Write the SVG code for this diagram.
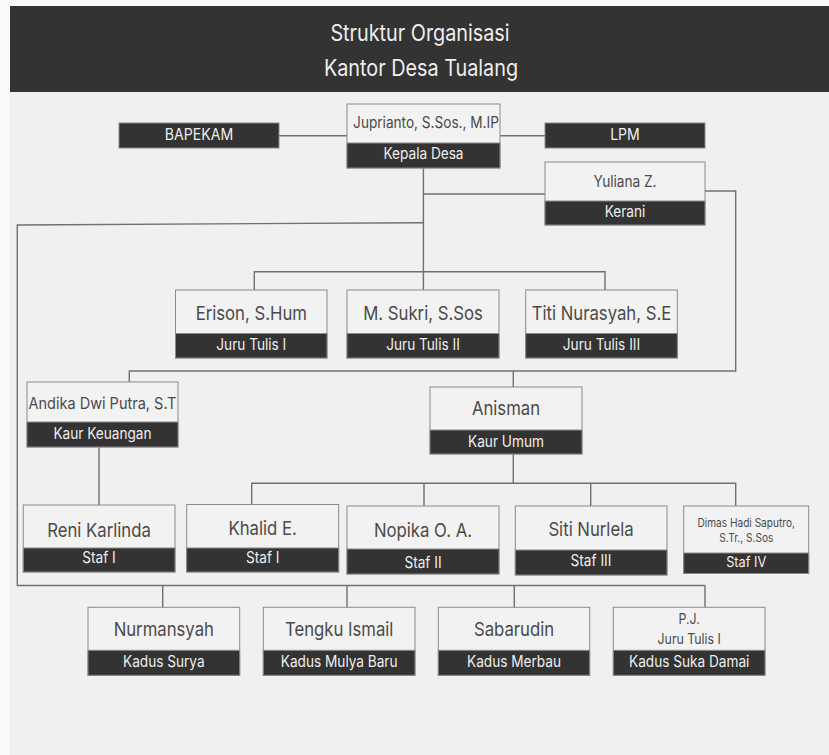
<svg xmlns="http://www.w3.org/2000/svg" width="829" height="755" viewBox="0 0 829 755">
  <style>
    text { font-family: Inter, "Noto Sans", "Liberation Sans", sans-serif; text-anchor: middle; transform-box: fill-box; transform-origin: center; transform: scaleX(0.88); }
    .title { font-size: 22.5px; fill: #eeeeee; }
    .nm { font-size: 19px; fill: #4a4a4a; }
    .nm-s { font-size: 15.5px; fill: #4a4a4a; }
    .nm-xs { font-size: 11.5px; fill: #4a4a4a; }
    .lb { font-size: 15.5px; fill: #eeeeee; }
    .box { fill: #f2f2f2; stroke: #8a8a8a; stroke-width: 1; }
    .band { fill: #333333; stroke: #8a8a8a; stroke-width: 1; }
    .conn { fill: none; stroke: #707070; stroke-width: 1.4; }
  </style>
  <rect x="0" y="0" width="829" height="755" fill="#fafafa"/>
  <rect x="10" y="6" width="819" height="749" fill="#f0f0f0"/>
  <g id="header">
    <rect x="10" y="6" width="819" height="86" fill="#333333"/>
    <text class="title" x="420" y="41">Struktur Organisasi</text>
    <text class="title" x="421" y="76.5">Kantor Desa Tualang</text>
  </g>
  <g id="connectors">
    <path class="conn" d="M279 135.7 H347 M500 135.7 H545"/>
    <path class="conn" d="M423.4 168 V290 M423.4 194 H545"/>
    <path class="conn" d="M423.4 222.7 L17.3 225 V585.5 H705 M162.7 585.5 V607.3 M347 585.5 V607.3 M514.3 585.5 V607.3 M705 585.5 V607.3"/>
    <path class="conn" d="M254.3 290 V271.7 H605 V290"/>
    <path class="conn" d="M705 191 H735.7 V371 H129.3 V382 M513.3 371 V387"/>
    <path class="conn" d="M99 447 V505"/>
    <path class="conn" d="M513.3 454 V483.3 M251.7 504.5 V483.3 H735.7 V506 M424 483.3 V506 M590.7 483.3 V506"/>
  </g>
  <g id="bapekam">
    <rect class="band" x="119" y="123" width="160" height="25"/>
    <text class="lb" x="199" y="140" style="font-size:16px">BAPEKAM</text>
  </g>
  <g id="lpm">
    <rect class="band" x="545" y="123" width="160" height="25"/>
    <text class="lb" x="625" y="140" style="font-size:16px">LPM</text>
  </g>
  <g id="kepala-desa">
    <rect class="box" x="347" y="104" width="153" height="64"/>
    <rect class="band" x="347" y="143" width="153" height="25"/>
    <text class="nm-s" x="426" y="128.3">Juprianto, S.Sos., M.IP</text>
    <text class="lb" x="423.5" y="159.5">Kepala Desa</text>
  </g>
  <g id="kerani">
    <rect class="box" x="545" y="162" width="160" height="63"/>
    <rect class="band" x="545" y="201" width="160" height="24"/>
    <text class="nm-s" x="625" y="187.3">Yuliana Z.</text>
    <text class="lb" x="625" y="217.3">Kerani</text>
  </g>
  <g id="juru-tulis-1">
    <rect class="box" x="175.5" y="290" width="151.5" height="68"/>
    <rect class="band" x="175.5" y="333.5" width="151.5" height="24.5"/>
    <text class="nm" x="251.3" y="320">Erison, S.Hum</text>
    <text class="lb" x="251.3" y="350">Juru Tulis I</text>
  </g>
  <g id="juru-tulis-2">
    <rect class="box" x="347" y="290" width="152" height="68"/>
    <rect class="band" x="347" y="333.5" width="152" height="24.5"/>
    <text class="nm" x="423" y="320">M. Sukri, S.Sos</text>
    <text class="lb" x="423" y="350">Juru Tulis II</text>
  </g>
  <g id="juru-tulis-3">
    <rect class="box" x="525.7" y="290" width="151.6" height="68"/>
    <rect class="band" x="525.7" y="333.5" width="151.6" height="24.5"/>
    <text class="nm" x="601.5" y="320">Titi Nurasyah, S.E</text>
    <text class="lb" x="601.5" y="350">Juru Tulis III</text>
  </g>
  <g id="kaur-keuangan">
    <rect class="box" x="27" y="382" width="151" height="65"/>
    <rect class="band" x="27" y="422" width="151" height="25"/>
    <text class="nm-s" x="102.5" y="409.3" style="font-size:16.5px">Andika Dwi Putra, S.T</text>
    <text class="lb" x="102.5" y="439.3">Kaur Keuangan</text>
  </g>
  <g id="kaur-umum">
    <rect class="box" x="430" y="387" width="152" height="67"/>
    <rect class="band" x="430" y="430" width="152" height="24"/>
    <text class="nm" x="506" y="415">Anisman</text>
    <text class="lb" x="506" y="446.7">Kaur Umum</text>
  </g>
  <g id="staf-reni">
    <rect class="box" x="23.3" y="505" width="151.7" height="67"/>
    <rect class="band" x="23.3" y="548" width="151.7" height="24"/>
    <text class="nm" x="99" y="536.7">Reni Karlinda</text>
    <text class="lb" x="99" y="563.3">Staf I</text>
  </g>
  <g id="staf-khalid">
    <rect class="box" x="186.7" y="504.5" width="152" height="67.5"/>
    <rect class="band" x="186.7" y="548" width="152" height="24"/>
    <text class="nm" x="262.7" y="535">Khalid E.</text>
    <text class="lb" x="262.7" y="562.7">Staf I</text>
  </g>
  <g id="staf-nopika">
    <rect class="box" x="347" y="506" width="152" height="68"/>
    <rect class="band" x="347" y="549" width="152" height="25"/>
    <text class="nm" x="423" y="537">Nopika O. A.</text>
    <text class="lb" x="423" y="568.3">Staf II</text>
  </g>
  <g id="staf-siti">
    <rect class="box" x="515.3" y="506" width="151.7" height="69"/>
    <rect class="band" x="515.3" y="550" width="151.7" height="25"/>
    <text class="nm" x="591" y="535.7">Siti Nurlela</text>
    <text class="lb" x="591" y="566">Staf III</text>
  </g>
  <g id="staf-dimas">
    <rect class="box" x="683.7" y="506" width="125" height="67.5"/>
    <rect class="band" x="683.7" y="553" width="125" height="20.5"/>
    <text class="nm-xs" x="746.2" y="526.7">Dimas Hadi Saputro,</text>
    <text class="nm-xs" x="746.2" y="541.7">S.Tr., S.Sos</text>
    <text class="lb" x="746.2" y="566.7" style="font-size:14.5px">Staf IV</text>
  </g>
  <g id="kadus-surya">
    <rect class="box" x="88" y="607.3" width="151.7" height="68"/>
    <rect class="band" x="88" y="650.3" width="151.7" height="25"/>
    <text class="nm" x="163.8" y="636.5">Nurmansyah</text>
    <text class="lb" x="163.8" y="667">Kadus Surya</text>
  </g>
  <g id="kadus-mulya-baru">
    <rect class="box" x="263.3" y="607.3" width="151.7" height="68"/>
    <rect class="band" x="263.3" y="650.3" width="151.7" height="25"/>
    <text class="nm" x="339.2" y="636.5">Tengku Ismail</text>
    <text class="lb" x="339.2" y="667">Kadus Mulya Baru</text>
  </g>
  <g id="kadus-merbau">
    <rect class="box" x="438.3" y="607.3" width="151.4" height="68"/>
    <rect class="band" x="438.3" y="650.3" width="151.4" height="25"/>
    <text class="nm" x="514" y="636.5">Sabarudin</text>
    <text class="lb" x="514" y="667">Kadus Merbau</text>
  </g>
  <g id="kadus-suka-damai">
    <rect class="box" x="613.3" y="607.3" width="151.7" height="68"/>
    <rect class="band" x="613.3" y="650.3" width="151.7" height="25"/>
    <text class="nm-s" x="689.2" y="624" style="font-size:14px">P.J.</text>
    <text class="nm-s" x="689.2" y="644" style="font-size:14px">Juru Tulis I</text>
    <text class="lb" x="689.2" y="666.7">Kadus Suka Damai</text>
  </g>
</svg>
